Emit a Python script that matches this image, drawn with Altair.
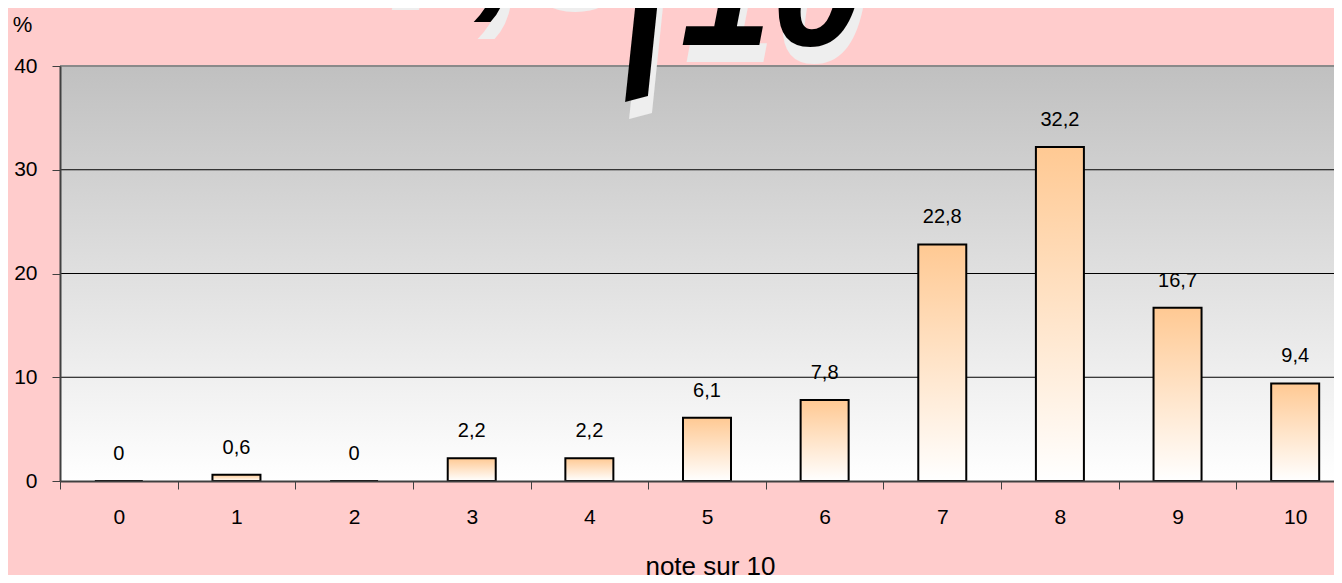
import altair as alt
import pandas as pd

# ---- data ----
notes = list(range(11))
pourcentages = [0, 0.6, 0, 2.2, 2.2, 6.1, 7.8, 22.8, 32.2, 16.7, 9.4]
etiquettes = [f"{v:g}".replace(".", ",") for v in pourcentages]
y_ticks = [0, 10, 20, 30, 40]
grid_values = [10, 20, 30]
top_values = [40]
titre_parts = ["7,5", "/", "10"]

df = pd.DataFrame({"note": notes, "pct": pourcentages, "label": etiquettes})
grid_df = pd.DataFrame({"v": grid_values})
top_df = pd.DataFrame({"v": top_values})

FONT = "Liberation Sans"
PLOT_W = 1274
PLOT_H = 415
BAND_RANGE = 1294

x_scale = alt.Scale(range=[0, BAND_RANGE], paddingInner=0, paddingOuter=0)
y_scale = alt.Scale(domain=[0, 40], nice=False)

bg_grad = alt.Gradient(
    gradient="linear",
    stops=[alt.GradientStop(color="#C0C0C0", offset=0),
           alt.GradientStop(color="#FFFFFF", offset=1)],
    x1=0, x2=0, y1=0, y2=1,
)
bar_grad = alt.Gradient(
    gradient="linear",
    stops=[alt.GradientStop(color="#FFC993", offset=0),
           alt.GradientStop(color="#FFFFFF", offset=1)],
    x1=0, x2=0, y1=0, y2=1,
)

background = alt.Chart(alt.Data(values=[{"a": 1}])).mark_rect(fill=bg_grad).encode(
    x=alt.value(0), x2=alt.value(BAND_RANGE), y=alt.value(0), y2=alt.value(PLOT_H)
)

grid = alt.Chart(grid_df).mark_rule(color="black", strokeWidth=1).encode(
    y=alt.Y("v:Q", scale=y_scale), x=alt.value(0), x2=alt.value(BAND_RANGE)
)
top_rule = alt.Chart(top_df).mark_rule(color="#8A8A8A", strokeWidth=2).encode(
    y=alt.Y("v:Q", scale=y_scale), x=alt.value(0), x2=alt.value(BAND_RANGE)
)

x_axis = alt.Axis(
    tickBand="extent", labelAngle=0, zindex=1,
    domainColor="#404040", domainWidth=2,
    tickColor="#404040", tickSize=8, tickWidth=1,
    labelFont=FONT, labelFontSize=21, labelColor="black",
    labelBaseline="middle", labelPadding=28,
    title="note sur 10", titleFont=FONT, titleFontSize=26, titleFontWeight="normal",
    titleColor="black", titleX=650, titleY=85, titleAlign="center", titleBaseline="middle",
)
y_axis = alt.Axis(
    values=y_ticks, grid=False, zindex=1,
    domainColor="#404040", domainWidth=2,
    tickColor="#404040", tickSize=8, tickWidth=1,
    labelFont=FONT, labelFontSize=21, labelColor="black", labelPadding=15,
    title="%", titleFont=FONT, titleFontSize=22, titleFontWeight="normal",
    titleColor="black", titleAngle=0, titleX=-38, titleY=-42,
    titleAlign="center", titleBaseline="middle",
)

bars = alt.Chart(df).mark_bar(width=48, fill=bar_grad, stroke="black", strokeWidth=2).encode(
    x=alt.X("note:O", scale=x_scale, axis=x_axis),
    y=alt.Y("pct:Q", scale=y_scale, axis=y_axis),
)

labels = alt.Chart(df).mark_text(
    dy=-27, fontSize=20, font=FONT, color="black", baseline="middle", align="center"
).encode(
    x=alt.X("note:O", scale=x_scale),
    y=alt.Y("pct:Q", scale=y_scale),
    text="label:N",
)

def title_piece(txt, x, y, size, color, angle=0, align="left"):
    kw = dict(font=FONT, fontSize=size, fontStyle="italic", fontWeight="bold",
              color=color, align=align, baseline="alphabetic")
    if angle:
        kw["angle"] = angle
    return alt.Chart(alt.Data(values=[{"t": txt}])).mark_text(**kw).encode(
        x=alt.value(x), y=alt.value(y), text="t:N"
    )

SH_DX, SH_DY = 4, 17
pieces = [
    (titre_parts[0], 312, -73, 186, 0, "left"),
    (titre_parts[1], 598, 23, 200, 345, "center"),
    (titre_parts[2], 620, -21, 165, 0, "left"),
]
shadow_layers = [title_piece(t, x + SH_DX, y + SH_DY, s, "#EEEEEE", a, al) for t, x, y, s, a, al in pieces]
black_layers = [title_piece(t, x, y, s, "black", a, al) for t, x, y, s, a, al in pieces]

chart = alt.layer(
    background, grid, top_rule, bars, labels, *shadow_layers, *black_layers
).properties(
    width=PLOT_W, height=PLOT_H,
    autosize=alt.AutoSizeParams(type="none"),
    padding={"left": 52, "top": 58, "right": 0, "bottom": 94},
).configure(
    background="#FFCCCC",
).configure_view(
    stroke=None, fill=None,
)

chart.save("out.html", embed_options={"renderer": "svg", "actions": False})
